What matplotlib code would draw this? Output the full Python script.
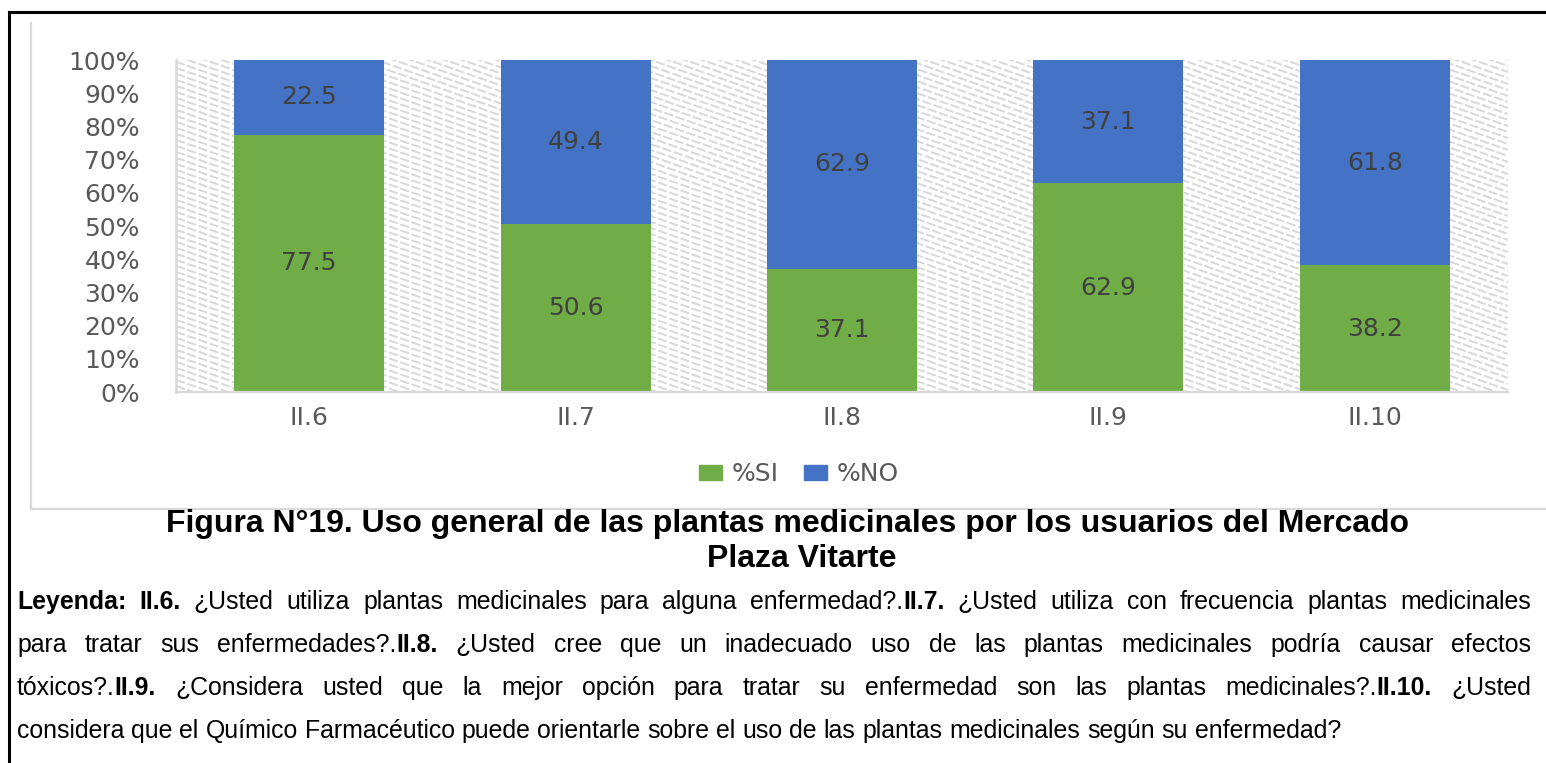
import matplotlib
matplotlib.use("Agg")
import matplotlib.pyplot as plt
import numpy as np
from matplotlib.transforms import IdentityTransform
from matplotlib.lines import Line2D
from matplotlib.patches import Patch

# ---- data ----
categories = ["II.6", "II.7", "II.8", "II.9", "II.10"]
pct_si = [77.5, 50.6, 37.1, 62.9, 38.2]
pct_no = [22.5, 49.4, 62.9, 37.1, 61.8]
series_names = ["%SI", "%NO"]
ytick_labels = ["0%", "10%", "20%", "30%", "40%", "50%", "60%", "70%", "80%", "90%", "100%"]
title_lines = ["Figura N°19. Uso general de las plantas medicinales por los usuarios del Mercado",
               "Plaza Vitarte"]
legend_lines = [
    [("Leyenda:", True), (" II.6.", True), (" ¿Usted utiliza plantas medicinales para alguna enfermedad?.", False),
     ("II.7.", True), (" ¿Usted utiliza con frecuencia plantas medicinales", False)],
    [("para tratar sus enfermedades?.", False), ("II.8.", True),
     (" ¿Usted cree que un inadecuado uso de las plantas medicinales podría causar efectos", False)],
    [("tóxicos?.", False), ("II.9.", True),
     (" ¿Considera usted que la mejor opción para tratar su enfermedad son las plantas medicinales?.", False),
     ("II.10.", True), (" ¿Usted", False)],
    [("considera que el Químico Farmacéutico puede orientarle sobre el uso de las plantas medicinales según su enfermedad?", False)],
]

GREEN = "#70AD47"
BLUE = "#4472C4"
W, H = 1546, 763

text_font = "Liberation Sans"
chart_font = "DejaVu Sans"
CFS = 18

fig = plt.figure(figsize=(W / 100, H / 100), dpi=100)
fig.patch.set_facecolor("white")
tf = fig.transFigure
tr = IdentityTransform()
renderer = fig.canvas.get_renderer()

# outer black border (open to right/bottom)
fig.add_artist(Line2D([9 / W, 9 / W], [0, 1 - 12 / H], color="black", lw=2.2, transform=tf))
fig.add_artist(Line2D([9 / W, 1], [1 - 12 / H, 1 - 12 / H], color="black", lw=2.2, transform=tf))
# chart area border (light gray)
fig.add_artist(Line2D([31 / W, 31 / W], [1 - 509 / H, 1 - 23 / H], color="#d9d9d9", lw=1.6, transform=tf))
fig.add_artist(Line2D([31 / W, 1], [1 - 509 / H, 1 - 509 / H], color="#d9d9d9", lw=1.6, transform=tf))

L, R, T, B = 176, 1508, 60, 392
ax = fig.add_axes([L / W, 1 - B / H, (R - L) / W, (B - T) / H])
ax.set_xlim(-0.5, len(categories) - 0.5)
ax.set_ylim(0, 100)

# dashed diagonal background pattern (decoration)
pw, ph = R - L, B - T
slope = 0.35
for c in np.arange(-slope * pw, ph + 6, 6.0):
    px = np.array([0, pw])
    py = c + slope * px
    ax.plot(-0.5 + px * 5 / pw, 100 - py * 100 / ph, color="#dadada", lw=1.5,
            dashes=(4.5, 1.2), zorder=0.5, solid_capstyle="butt", dash_capstyle="butt")

x = np.arange(len(categories))
bw = 0.563
ax.bar(x, pct_si, width=bw, color=GREEN, zorder=2, label=series_names[0])
ax.bar(x, pct_no, width=bw, bottom=pct_si, color=BLUE, zorder=2, label=series_names[1])

for i in x:
    ax.text(i, pct_si[i] / 2, f"{pct_si[i]:.1f}", ha="center", va="center", color="#404040",
            fontsize=CFS, family=chart_font, zorder=3)
    ax.text(i, pct_si[i] + pct_no[i] / 2, f"{pct_no[i]:.1f}", ha="center", va="center", color="#404040",
            fontsize=CFS, family=chart_font, zorder=3)

ax.set_yticks(range(0, 101, 10))
ax.set_yticklabels(ytick_labels, fontsize=CFS, color="#595959", family=chart_font)
ax.set_xticks(x)
ax.set_xticklabels(categories, fontsize=CFS, color="#595959", family=chart_font)
ax.tick_params(axis="both", length=0)
ax.tick_params(axis="y", pad=26)
ax.tick_params(axis="x", pad=10)
for s in ["top", "right"]:
    ax.spines[s].set_visible(False)
ax.spines["left"].set_color("#d9d9d9")
ax.spines["left"].set_linewidth(1.8)
ax.spines["bottom"].set_color("#d9d9d9")
ax.spines["bottom"].set_linewidth(1.6)
ax.spines["bottom"].set_zorder(3)

fig.legend(handles=[Patch(color=GREEN), Patch(color=BLUE)], labels=series_names,
           loc="center", bbox_to_anchor=(799 / W, 1 - 474 / H), ncol=2, frameon=False,
           handlelength=0.9, handleheight=0.56, handletextpad=0.4, columnspacing=1.0,
           prop={"family": chart_font, "size": CFS}, labelcolor="#595959")


def width(s, bold, size):
    t = fig.text(0, 0, s, fontsize=size, family=text_font, fontweight="bold" if bold else "normal", transform=tr)
    w = t.get_window_extent(renderer).width
    t.remove()
    return w


# title (sized so that line 1 spans ~1245 px as in the reference)
TFS = 20 * 1245 / width(title_lines[0], True, 20)
fig.text(787, H - 532, title_lines[0], ha="center", va="baseline", fontsize=TFS,
         fontweight="bold", family=text_font, transform=tr)
fig.text(802, H - 567, title_lines[1], ha="center", va="baseline", fontsize=TFS,
         fontweight="bold", family=text_font, transform=tr)

# justified legend paragraph (sized so that the last line spans ~1326 px)
FS = 20 * 1326 / width(legend_lines[3][0][0], False, 20)
x0, x1 = 17, 1531
baselines = [609, 652, 695, 738]


def split_words(line):
    words = []
    cur = []
    for text, bold in line:
        parts = text.split(" ")
        for k, p in enumerate(parts):
            if k > 0:
                if cur:
                    words.append(cur)
                cur = []
            if p:
                cur.append((p, bold))
    if cur:
        words.append(cur)
    return words


space_w = width("a a", False, FS) - width("aa", False, FS)
for li, line in enumerate(legend_lines):
    words = split_words(line)
    wws = [[width(p, b, FS) for p, b in wd] for wd in words]
    tot = sum(sum(w) for w in wws)
    justify = li < len(legend_lines) - 1
    gap = (x1 - x0 - tot) / (len(words) - 1) if justify else space_w
    xc = x0
    for wd, ww in zip(words, wws):
        for (p, b), w in zip(wd, ww):
            fig.text(xc, H - baselines[li], p, fontsize=FS, family=text_font,
                     fontweight="bold" if b else "normal", ha="left", va="baseline", transform=tr)
            xc += w
        xc += gap

fig.savefig("out.png", dpi=100)
